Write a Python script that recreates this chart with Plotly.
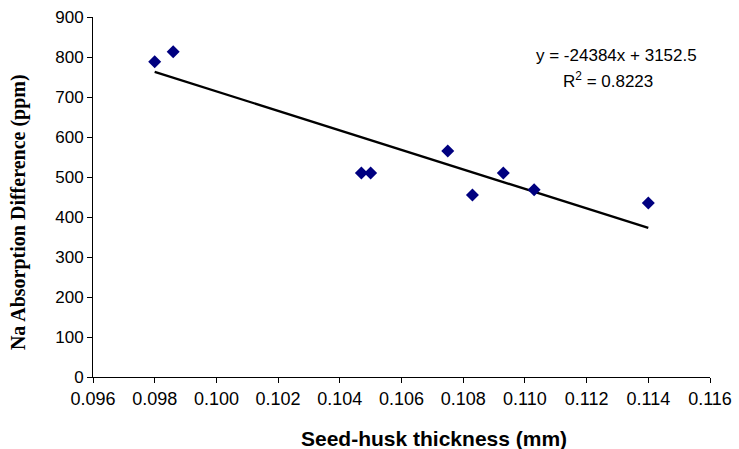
import plotly.graph_objects as go

thickness = [0.0980, 0.0986, 0.1047, 0.1050, 0.1075, 0.1083, 0.1093, 0.1103, 0.1140]
na_diff = [788, 813, 510, 510, 565, 455, 510, 468, 435]
slope = -24384
intercept = 3152.5
r2 = 0.8223
x_ticks = [0.096, 0.098, 0.100, 0.102, 0.104, 0.106, 0.108, 0.110, 0.112, 0.114, 0.116]
y_ticks = [0, 100, 200, 300, 400, 500, 600, 700, 800, 900]
x_title = "Seed-husk thickness (mm)"
y_title = "Na Absorption Difference (ppm)"

trend_x = [min(thickness), max(thickness)]
trend_y = [slope * v + intercept for v in trend_x]

fig = go.Figure()
fig.add_trace(go.Scatter(x=trend_x, y=trend_y, mode="lines",
                         line=dict(color="black", width=2.3), showlegend=False, hoverinfo="skip"))
fig.add_trace(go.Scatter(x=thickness, y=na_diff, mode="markers",
                         marker=dict(symbol="diamond", color="#000080", size=10),
                         showlegend=False))

sans = "Liberation Sans, Arial"
fig.add_annotation(xref="paper", yref="paper", x=0.848, y=0.893, xanchor="center", yanchor="middle",
                   text=f"y = {slope}x + {intercept}", showarrow=False,
                   font=dict(family=sans, size=17, color="black"))
fig.add_annotation(xref="paper", yref="paper", x=0.835, y=0.826, xanchor="center", yanchor="middle",
                   text=f"R<sup>2</sup> = {r2}", showarrow=False,
                   font=dict(family=sans, size=17, color="black"))
fig.add_annotation(xref="paper", yref="paper", x=0.5527, y=-0.172, xanchor="center", yanchor="middle",
                   text=f"<b>{x_title}</b>", showarrow=False,
                   font=dict(family=sans, size=21, color="black"))
fig.add_annotation(xref="paper", yref="paper", x=-0.1216, y=0.458, xanchor="center", yanchor="middle",
                   text=f"<b>{y_title}</b>", showarrow=False, textangle=-90,
                   font=dict(family="Liberation Serif, Times New Roman", size=20, color="black"))

fig.update_layout(
    width=739, height=449,
    margin=dict(l=93, r=29, t=17, b=72),
    paper_bgcolor="white", plot_bgcolor="white",
    font=dict(family=sans, size=17, color="black"),
    xaxis=dict(range=[0.096, 0.116], tickvals=x_ticks, ticktext=[f"{v:.3f}" for v in x_ticks],
               showgrid=False, zeroline=False, showline=True, linecolor="black", linewidth=1,
               ticks="outside", ticklen=5, tickcolor="black", automargin=False,
               tickfont=dict(size=18)),
    yaxis=dict(range=[0, 900], tickvals=y_ticks, showgrid=False, zeroline=False,
               showline=True, linecolor="black", linewidth=1,
               ticks="outside", ticklen=5, tickcolor="black", automargin=False,
               tickfont=dict(size=17)),
)

fig.write_html("out.html", config={"displayModeBar": False},
               post_script="document.body.style.margin='0';")
